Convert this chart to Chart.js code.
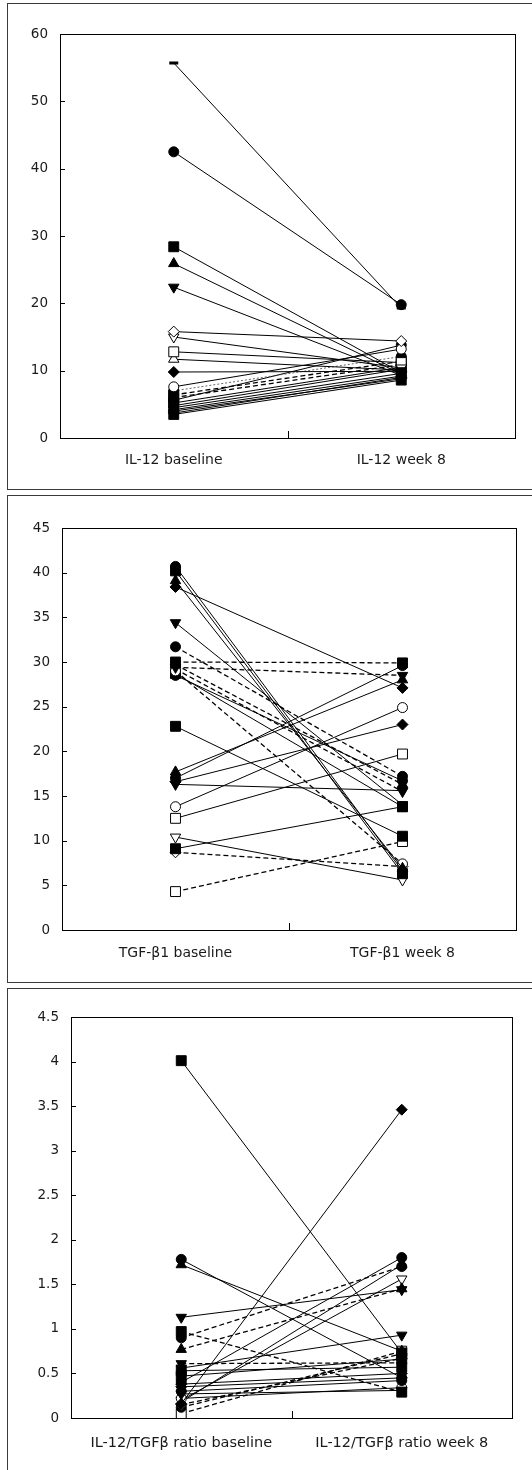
<!DOCTYPE html>
<html>
<head>
<meta charset="utf-8">
<script src="https://cdn.jsdelivr.net/npm/chart.js@4.4.1/dist/chart.umd.min.js"></script>
<style>
  body { margin: 0; background: #fff; }
  #page { position: relative; width: 532px; height: 1470px; overflow: hidden; }
  canvas { position: absolute; left: 0; }
  .frame { position: absolute; left: 7px; width: 540px; border: 1.5px solid #3a3a3a; pointer-events: none; }
</style>
</head>
<body>
<div id="page">
  <canvas id="il12" width="532" height="490" style="top:0px"></canvas>
  <canvas id="tgf" width="532" height="495" style="top:490px"></canvas>
  <canvas id="ratio" width="532" height="485" style="top:985px"></canvas>
  <div class="frame" style="top:3px;height:485px"></div>
  <div class="frame" style="top:495px;height:486px"></div>
  <div class="frame" style="top:988px;height:500px"></div>
</div>
<script>
// IL-12 panel
const il12Labels = ['IL-12 baseline', 'IL-12 week 8'];
const il12Ticks = [0, 10, 20, 30, 40, 50, 60];
const il12Base =  [55.7, 42.5, 28.4, 25.9, 22.4, 15.8, 15.0, 12.8, 11.7, 9.8, 7.6, 7.0, 6.4, 6.0, 5.6, 5.2, 4.8, 4.5, 4.2, 4.0, 3.7, 3.5];
const il12Week8 = [19.3, 19.8, 9.7, 9.5, 9.3, 14.4, 10.4, 11.2, 10.1, 9.9, 13.2, 12.1, 11.4, 10.9, 13.8, 10.5, 10.2, 9.6, 9.2, 8.8, 9.0, 8.6];
const il12Markers = ['bar','fcircle','fsquare','ftri','fdown','odiamond','odown','osquare','otri','fdiamond','ocircle','fcircle','fsquare','fsquare','fcircle','fsquare','fsquare','ftri','fdown','fdiamond','fdiamond','fsquare'];
const il12Lines = ['s','s','s','s','s','s','s','s','s','s','s','o','d','d','s','s','s','s','s','s','s','s'];

// TGF-beta1 panel
const tgfLabels = ['TGF-\u03b21 baseline', 'TGF-\u03b21 week 8'];
const tgfTicks = [0, 5, 10, 15, 20, 25, 30, 35, 40, 45];
const tgfBase =  [40.7, 40.2, 39.1, 38.4, 34.4, 31.7, 30.0, 29.4, 29.7, 29.0, 29.2, 28.5, 28.7, 22.8, 17.7, 17.0, 16.6, 16.3, 13.8, 12.5, 10.4, 9.1, 8.7, 4.3];
const tgfWeek8 = [6.6, 6.3, 6.9, 27.1, 14.0, 17.2, 29.9, 28.5, 16.3, 7.4, 15.5, 16.7, 13.8, 10.5, 28.0, 29.6, 23.0, 15.6, 24.9, 19.7, 5.6, 13.8, 7.1, 9.9];
const tgfMarkers = ['fcircle','fsquare','ftri','fdiamond','fdown','fcircle','fsquare','fdown','ftri','ocircle','fdown','fcircle','fsquare','fsquare','ftri','fcircle','fdiamond','fdown','ocircle','osquare','odown','fsquare','odiamond','osquare'];
const tgfLines = ['s','s','s','s','s','d','d','d','d','d','d','s','s','s','s','s','s','s','s','s','s','s','d','d'];

// IL-12/TGF-beta ratio panel
const ratioLabels = ['IL-12/TGF\u03b2 ratio baseline', 'IL-12/TGF\u03b2 ratio week 8'];
const ratioTicks = [0, 0.5, 1, 1.5, 2, 2.5, 3, 3.5, 4, 4.5];
const ratioBase =  [4.01, 0.16, 1.78, 1.72, 1.13, 0.97, 0.90, 0.77, 0.61, 0.56, 0.53, 0.47, 0.40, 0.38, 0.35, 0.30, 0.27, 0.22, 0.18, 0.20, 0.15, 0.12, 0.05];
const ratioWeek8 = [0.73, 3.46, 0.45, 0.75, 1.44, 0.29, 1.70, 1.45, 0.62, 0.93, 0.57, 0.66, 1.80, 0.50, 0.45, 0.42, 0.31, 0.34, 1.72, 1.56, 0.67, 0.72, 0.75];
const ratioMarkers = ['fsquare','fdiamond','fcircle','ftri','fdown','fsquare','fcircle','ftri','fdown','fdown','fsquare','fsquare','fcircle','fdiamond','fdiamond','fcircle','fdown','ocircle','otri','odown','odiamond','fcircle','osquare'];
const ratioLines = ['s','s','s','s','s','d','d','d','d','s','s','s','s','s','s','s','s','s','s','s','d','d','d'];

const markerDefs = {
  fcircle:  { style: 'circle',   rot: 0,   fill: '#000', r: 5 },
  ocircle:  { style: 'circle',   rot: 0,   fill: '#fff', r: 5 },
  fsquare:  { style: 'rect',     rot: 0,   fill: '#000', r: 7 },
  osquare:  { style: 'rect',     rot: 0,   fill: '#fff', r: 7 },
  ftri:     { style: 'triangle', rot: 0,   fill: '#000', r: 6 },
  otri:     { style: 'triangle', rot: 0,   fill: '#fff', r: 6 },
  fdown:    { style: 'triangle', rot: 180, fill: '#000', r: 6 },
  odown:    { style: 'triangle', rot: 180, fill: '#fff', r: 6 },
  fdiamond: { style: 'rectRot',  rot: 0,   fill: '#000', r: 5.5 },
  odiamond: { style: 'rectRot',  rot: 0,   fill: '#fff', r: 5.5 },
  bar:      { style: 'line',     rot: 0,   fill: '#000', r: 4.5 }
};

const lineDefs = {
  s: { dash: [],     width: 1,   color: '#000' },
  d: { dash: [5, 3], width: 1.3, color: '#000' },
  o: { dash: [2, 2], width: 0.9, color: '#555' }
};

// draws the plot box, inward y ticks and the single x tick between the two groups
const framePlugin = {
  id: 'frame',
  afterDraw(chart) {
    const ctx = chart.ctx;
    const a = chart.chartArea;
    const ys = chart.scales.y;
    const xs = chart.scales.x;
    ctx.save();
    ctx.strokeStyle = '#000';
    ctx.lineWidth = 1;
    ctx.strokeRect(Math.round(a.left) + 0.5, Math.round(a.top) + 0.5, Math.round(a.right - a.left), Math.round(a.bottom - a.top));
    ctx.beginPath();
    ys.ticks.forEach((t, i) => {
      const y = Math.round(ys.getPixelForTick(i)) + 0.5;
      ctx.moveTo(a.left, y);
      ctx.lineTo(a.left + 5, y);
    });
    const mid = Math.round((xs.getPixelForValue(0) + xs.getPixelForValue(1)) / 2) + 0.5;
    ctx.moveTo(mid, a.bottom);
    ctx.lineTo(mid, a.bottom - 7);
    ctx.stroke();
    ctx.restore();
  }
};

function makeDatasets(base, week8, markers, lines) {
  const sets = [];
  for (let i = 0; i < base.length; i++) {
    const m = markerDefs[markers[i]];
    const l = lineDefs[lines[i]];
    sets.push({
      data: [base[i], week8[i]],
      borderColor: l.color,
      borderWidth: l.width,
      borderDash: l.dash,
      pointStyle: m.style,
      pointRotation: m.rot,
      pointRadius: m.r,
      pointBackgroundColor: m.fill,
      pointBorderColor: '#000',
      pointBorderWidth: markers[i] === 'bar' ? 3 : 1,
      tension: 0
    });
  }
  return sets;
}

function drawPanel(id, labels, ticks, base, week8, markers, lines, box) {
  const maxY = ticks[ticks.length - 1];
  const step = ticks[1] - ticks[0];
  const font = { family: 'DejaVu Sans', size: box.font };
  new Chart(document.getElementById(id), {
    type: 'line',
    data: { labels: labels, datasets: makeDatasets(base, week8, markers, lines) },
    options: {
      responsive: false,
      animation: false,
      events: [],
      layout: { padding: { left: box.left - 50, top: box.top, right: 532 - box.right, bottom: box.bottom } },
      plugins: { legend: { display: false }, tooltip: { enabled: false } },
      scales: {
        x: {
          type: 'category',
          offset: true,
          grid: { display: false },
          border: { display: false },
          ticks: { color: '#1a1a1a', font: font, padding: box.xPad, maxRotation: 0, autoSkip: false },
          afterFit: s => { s.height = 40; }
        },
        y: {
          min: 0,
          max: maxY,
          grid: { display: false, drawTicks: false },
          border: { display: false },
          ticks: {
            stepSize: step,
            color: '#1a1a1a',
            font: { family: 'DejaVu Sans', size: 13.5 },
            padding: 12,
            callback: v => String(v)
          },
          afterFit: s => { s.width = 50; }
        }
      }
    },
    plugins: [framePlugin]
  });
}

// box: plot area in canvas pixels (bottom = space under the x label band)
drawPanel('il12', il12Labels, il12Ticks, il12Base, il12Week8, il12Markers, il12Lines,
  { left: 60, right: 515, top: 34, bottom: 12, xPad: 6, font: 14 });
drawPanel('tgf', tgfLabels, tgfTicks, tgfBase, tgfWeek8, tgfMarkers, tgfLines,
  { left: 62, right: 516, top: 38, bottom: 15, xPad: 7, font: 14 });
drawPanel('ratio', ratioLabels, ratioTicks, ratioBase, ratioWeek8, ratioMarkers, ratioLines,
  { left: 71, right: 512, top: 32, bottom: 12, xPad: 9, font: 14.5 });
</script>
</body>
</html>
